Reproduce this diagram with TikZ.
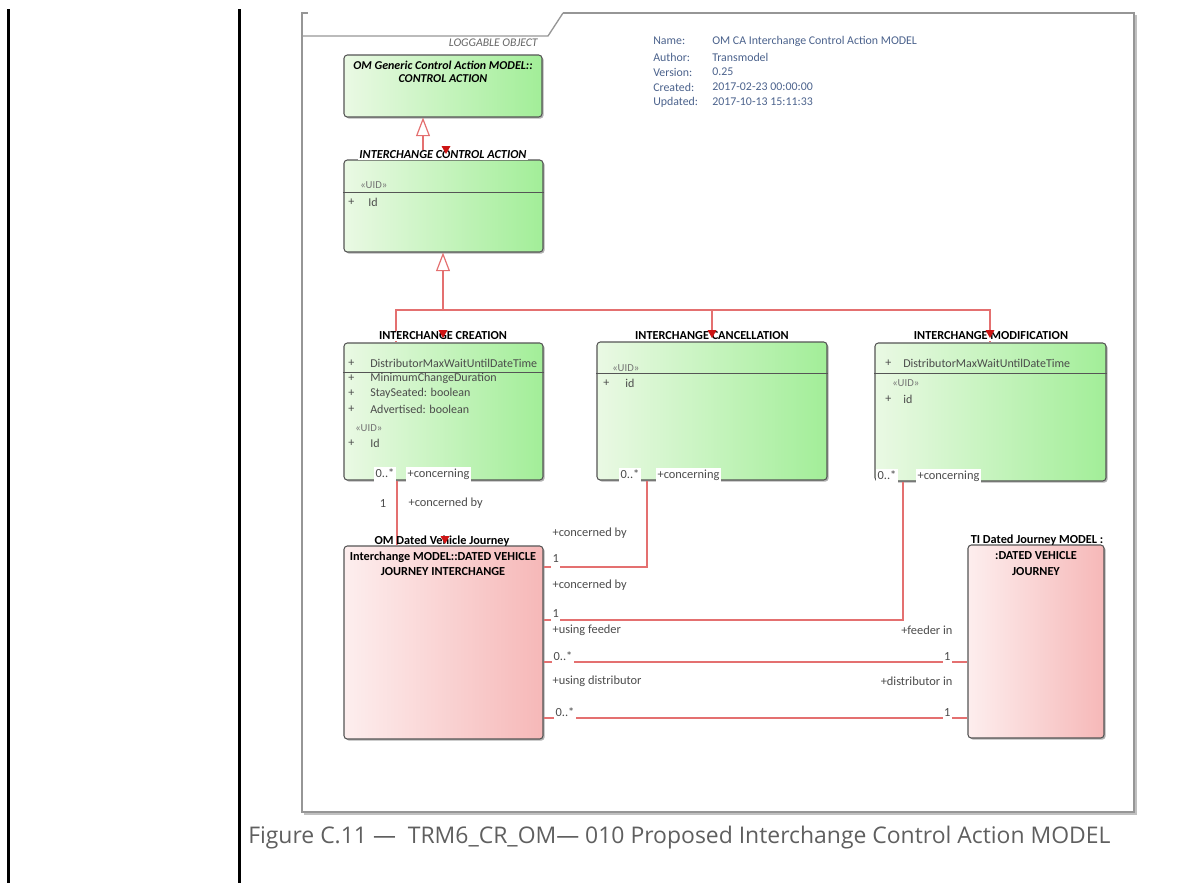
\documentclass[tikz,border=0pt]{standalone}
\usepackage{fontspec}
\setmainfont{Carlito}
\newfontfamily\capfont{Open Sans}
\usetikzlibrary{arrows.meta,shadows}
\definecolor{gl}{RGB}{234,249,228}
\definecolor{gr}{RGB}{162,238,152}
\definecolor{pl}{RGB}{253,238,238}
\definecolor{pr}{RGB}{246,184,184}
\definecolor{bord}{RGB}{85,85,85}
\definecolor{conred}{RGB}{228,112,112}
\definecolor{mk}{RGB}{205,20,20}
\definecolor{frm}{RGB}{150,150,150}
\definecolor{info}{RGB}{75,98,140}
\definecolor{attr}{RGB}{75,75,75}
\definecolor{capgray}{RGB}{95,95,95}
\begin{document}
\begin{tikzpicture}[x=0.75pt,y=-0.75pt,
  box/.style={draw=bord, line width=0.8pt, rounded corners=2.5pt, inner sep=0pt,
    drop shadow={shadow xshift=1.2pt, shadow yshift=-1.2pt, opacity=0.3, fill=black}},
  sz/.style n args={2}{minimum width=#1*0.75pt, minimum height=#2*0.75pt},
  gbox/.style={box, left color=gl, right color=gr},
  pbox/.style={box, left color=pl, right color=pr},
  conn/.style={draw=conred, line width=0.9pt},
  gen/.style={conn, -{Triangle[fill=white, length=14pt, width=10.5pt]}},
  ttl/.style={font=\fontsize{9.2}{10}\selectfont\bfseries, inner sep=0.8pt, text=black},
  ttlw/.style={ttl, fill=white},
  ttli/.style={font=\fontsize{9.2}{10}\selectfont\bfseries\itshape, inner sep=0.8pt, text=black},
  att/.style={font=\fontsize{9}{10}\selectfont, text=attr, inner sep=0pt, anchor=west},
  uid/.style={att, text=black!55, font=\fontsize{8}{9}\selectfont},
  lbl/.style={font=\fontsize{9.3}{10}\selectfont, text=attr, inner sep=1pt, anchor=west},
  mult/.style={font=\fontsize{9.3}{10}\selectfont, text=attr, fill=white, inner sep=1pt, text depth=4.5pt, anchor=base west},
  multr/.style={mult, anchor=base east},
  inf/.style={font=\fontsize{8.9}{10}\selectfont, text=info, inner sep=0pt, anchor=west},
  sep/.style={draw=bord, line width=0.7pt}
]
\useasboundingbox (0,0) rectangle (1181,883);
% page side rules
\draw[line width=2.25pt] (8,9) -- (8,883);
\draw[line width=2.25pt] (239,9) -- (239,883);
% diagram frame
\draw[frm!60, line width=1pt] (1136,15) -- (1136,814) -- (304,814);
\draw[frm, line width=1pt] (563,13) -- (1134,13) -- (1134,812) -- (302,812) -- (302,13) -- (308,13);
\draw[frm, line width=1pt] (302,36) -- (548,36) -- (563,13);
\node[font=\fontsize{8.8}{9}\selectfont\itshape, text=black!60, anchor=east, inner sep=0pt] (logg) at (538,43) {LOGGABLE OBJECT};

% info block
\node[inf] (i1) at (653,41) {Name:};
\node[inf] (i2) at (653,57) {Author:};
\node[inf] (i3) at (653,72) {Version:};
\node[inf] (i4) at (653,87) {Created:};
\node[inf] (i5) at (653,102) {Updated:};
\node[inf] (v1) at (712,41) {OM CA Interchange Control Action MODEL};
\node[inf] (v2) at (712,57) {Transmodel};
\node[inf] (v3) at (712,72) {0.25};
\node[inf] (v4) at (712,87) {2017-02-23 00:00:00};
\node[inf] (v5) at (712,102) {2017-10-13 15:11:33};

% boxes
\node[gbox, sz={198}{62}] (ca) at (443,86) {};
\node[gbox, sz={199}{92}] (ica) at (443.5,206) {};
\node[gbox, sz={199}{137}] (cre) at (443.5,411.5) {};
\node[gbox, sz={230}{138}] (can) at (712,411) {};
\node[gbox, sz={231}{138}] (mod) at (990.5,412) {};
\node[pbox, sz={199}{193}] (dvji) at (443.5,642.5) {};
\node[pbox, sz={136}{193}] (tidvj) at (1036,641.5) {};

% generalizations
\draw[gen] (ica.north -| 423,0) -- (ca.south -| 423,0);
\draw[gen] (443,310) -- (ica.south -| 443,0);
\draw[conn] (cre.north -| 396,0) -- (396,310) -- (990,310) -- (mod.north -| 990,0);
\draw[conn] (712,310) -- (can.north -| 712,0);

% associations
\draw[conn] (cre.south -| 397,0) -- (dvji.north -| 397,0);
\draw[conn] (can.south -| 647,0) -- (647,567) -- (dvji.east |- 0,567);
\draw[conn] (mod.south -| 903,0) -- (903,620) -- (dvji.east |- 0,620);
\draw[conn] (dvji.east |- 0,662) -- (tidvj.west |- 0,662);
\draw[conn] (dvji.east |- 0,718) -- (tidvj.west |- 0,718);

% CONTROL ACTION
\node[ttli, font=\fontsize{9}{10}\selectfont\bfseries\itshape] (ca-t1) at (443,65) {OM Generic Control Action MODEL::};
\node[ttli, font=\fontsize{9}{10}\selectfont\bfseries\itshape] (ca-t2) at (443,79) {CONTROL ACTION};

% INTERCHANGE CONTROL ACTION
\node[ttli, fill=white] (ica-t) at (443,155) {INTERCHANGE CONTROL ACTION};
\node[uid] (ica-s) at (360,185) {«UID»};
\draw[sep] (ica.west |- 0,192) -- (ica.east |- 0,192);
\node[att] (ica-p) at (348,202) {+};
\node[att] (ica-a) at (368,202) {Id};

% INTERCHANGE CREATION
\node[ttlw] (cre-t) at (443,336) {INTERCHANGE CREATION};
\node[att] (cre-p1) at (348,363) {+};
\node[att] (cre-a1) at (370,363) {DistributorMaxWaitUntilDateTime};
\draw[sep] (cre.west |- 0,372) -- (cre.east |- 0,372);
\node[att] (cre-p2) at (348,378) {+};
\node[att] (cre-a2) at (370,378) {MinimumChangeDuration};
\node[att] (cre-p3) at (348,393) {+};
\node[att] (cre-a3) at (370,393) {StaySeated: boolean};
\node[att] (cre-p4) at (348,409) {+};
\node[att] (cre-a4) at (370,409) {Advertised: boolean};
\node[uid] (cre-s) at (355,428) {«UID»};
\node[att] (cre-p5) at (348,443) {+};
\node[att] (cre-a5) at (370,443) {Id};

% INTERCHANGE CANCELLATION
\node[ttlw] (can-t) at (712,336) {INTERCHANGE CANCELLATION};
\node[uid] (can-s) at (612,368) {«UID»};
\draw[sep] (can.west |- 0,373) -- (can.east |- 0,373);
\node[att] (can-p) at (603,383) {+};
\node[att] (can-a) at (625,383) {id};

% INTERCHANGE MODIFICATION
\node[ttlw] (mod-t) at (991,336) {INTERCHANGE MODIFICATION};
\node[att] (mod-p1) at (885,363) {+};
\node[att] (mod-a1) at (903,363) {DistributorMaxWaitUntilDateTime};
\draw[sep] (mod.west |- 0,373) -- (mod.east |- 0,373);
\node[uid] (mod-s) at (892,383) {«UID»};
\node[att] (mod-p2) at (885,399) {+};
\node[att] (mod-a2) at (903,399) {id};

% DATED VEHICLE JOURNEY INTERCHANGE
\node[ttl] (dvji-t0) at (442,541) {OM Dated Vehicle Journey};
\node[ttl] (dvji-t1) at (443,557) {Interchange MODEL::DATED VEHICLE};
\node[ttl] (dvji-t2) at (443,572) {JOURNEY INTERCHANGE};

% DATED VEHICLE JOURNEY
\node[ttl] (tidvj-t0) at (1037,540) {TI Dated Journey MODEL :};
\node[ttl] (tidvj-t1) at (1036,556) {:DATED VEHICLE};
\node[ttl] (tidvj-t2) at (1036,572) {JOURNEY};

% red markers
\foreach \mx/\my in {446/150, 443/334, 712/334, 990/334, 445/540}
  \fill[mk] (\mx-4.5,\my-4) -- (\mx+4.5,\my-4) -- (\mx,\my+4) -- cycle;

% association labels
\node[mult] (m1) at (374,477) {0..*};
\node[mult] (r1) at (406,477) {+concerning};
\node[lbl, anchor=center] (m2) at (383,503) {1};
\node[lbl] (r2) at (407,503) {+concerned by};

\node[mult] (m3) at (619,478) {0..*};
\node[mult] (r3) at (656,478) {+concerning};
\node[lbl] (r4) at (551,533) {+concerned by};
\node[mult] (m4) at (551,562) {1};

\node[mult] (m5) at (876,479) {0..*};
\node[mult] (r5) at (916,479) {+concerning};
\node[lbl] (r6) at (551,585) {+concerned by};
\node[mult] (m6) at (551,617) {1};

\node[lbl] (r7) at (551,630) {+using feeder};
\node[lbl, anchor=east] (r8) at (954,630) {+feeder in};
\node[mult] (m7) at (552,660) {0..*};
\node[multr] (m8) at (952,660) {1};

\node[lbl] (r9) at (551,681) {+using distributor};
\node[lbl, anchor=east] (r10) at (954,681) {+distributor in};
\node[mult] (m9) at (554,716) {0..*};
\node[multr] (m10) at (952,716) {1};

% caption
\node[font=\capfont\fontsize{17.2}{20}\selectfont, text=capgray, anchor=base west, inner sep=0pt] (cap) at (248,843)
  {Figure C.11 —\ \ TRM6\_CR\_OM— 010 Proposed Interchange Control Action MODEL};
\end{tikzpicture}
\end{document}
